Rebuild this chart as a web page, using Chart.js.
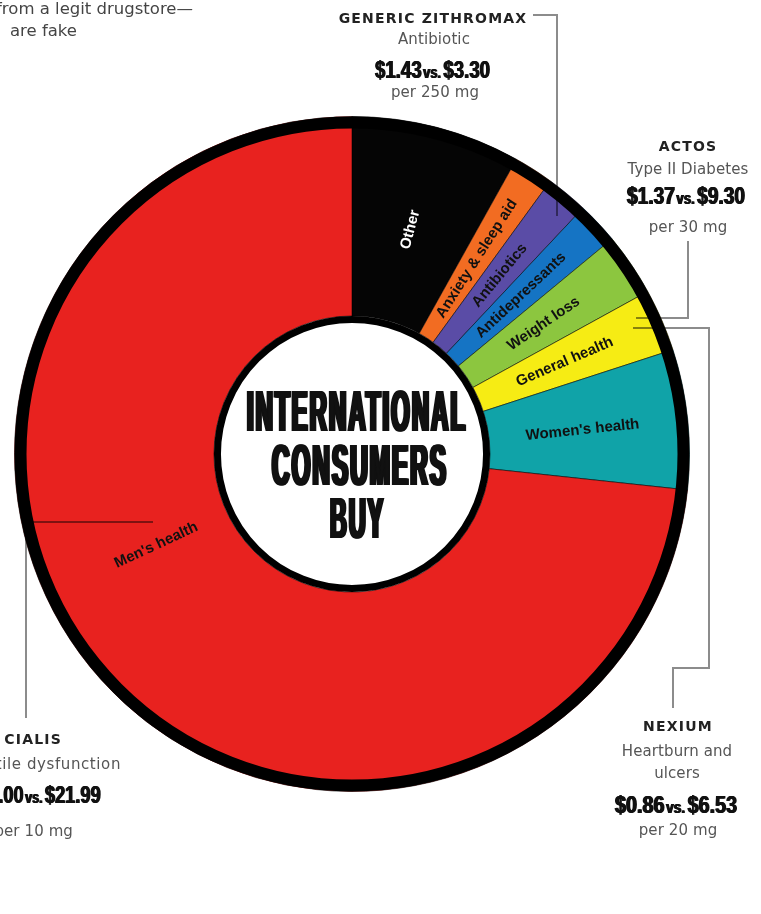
<!DOCTYPE html>
<html>
<head>
<meta charset="utf-8">
<script src="https://cdn.jsdelivr.net/npm/chart.js@4.4.1/dist/chart.umd.min.js"></script>
<style>
  html, body { margin: 0; padding: 0; background: #fff; }
  #page { position: relative; width: 761px; height: 914px; overflow: hidden; background: #fff; }
  #chart { position: absolute; left: 0; top: 0; }
  #leaders { position: absolute; left: 0; top: 0; }
  .t { position: absolute; white-space: nowrap; line-height: 1; transform: translate(-50%, -50%); }
  .r { transform: translate(-100%, -50%); }
  .l { transform: translate(0, -50%); }
  .title { font: bold 14px "DejaVu Sans"; letter-spacing: 1.2px; color: #222; }
  .sub { font: 15px "DejaVu Sans"; letter-spacing: 0.1px; color: #555; }
  .intro { font: 16.5px "DejaVu Sans"; color: #444; }
  .fit { position: absolute; white-space: nowrap; line-height: 1; transform-origin: 0 50%;
         font-family: "Liberation Sans"; font-weight: bold; color: #111; }
  .price { font-size: 24px; text-shadow: 0.8px 0 0 #111, -0.8px 0 0 #111; }
  .price .vs { font-size: 16.5px; margin: 0 3px 0 2px; }
  .center { font-size: 58px; letter-spacing: 5px; color: #111;
            text-shadow: 2px 0 0 #111, -2px 0 0 #111, 4px 0 0 #111, -4px 0 0 #111; }
</style>
</head>
<body>
<div id="page">
  <canvas id="chart" width="761" height="914"></canvas>
  <svg id="leaders" width="761" height="914">
    <g fill="none" stroke="rgba(0,0,0,0.45)" stroke-width="2">
      <polyline points="533,15 557,15 557,216"/>
      <polyline points="688,241 688,318 636,318"/>
      <polyline points="633,328 709,328 709,668 673,668 673,708"/>
      <polyline points="153,522 26,522 26,718"/>
    </g>
  </svg>

  <div class="t r intro" style="left:193px; top:7.5px;">from a legit drugstore—</div>
  <div class="t l intro" style="left:10px; top:30px;">are fake</div>

  <div class="t title" style="left:433px; top:17.5px;">GENERIC ZITHROMAX</div>
  <div class="t sub" style="left:434px; top:38.5px;">Antibiotic</div>
  <div class="fit price" data-cx="432" data-cy="70" data-w="115">$1.43<span class="vs">vs.</span>$3.30</div>
  <div class="t sub" style="left:435px; top:92px;">per 250 mg</div>

  <div class="t title" style="left:688px; top:145.5px;">ACTOS</div>
  <div class="t sub" style="left:688px; top:168.5px;">Type II Diabetes</div>
  <div class="fit price" data-cx="686" data-cy="196" data-w="118">$1.37<span class="vs">vs.</span>$9.30</div>
  <div class="t sub" style="left:688px; top:227px;">per 30 mg</div>

  <div class="t r title" style="left:62px; top:739px;">CIALIS</div>
  <div class="t r sub" style="left:121px; top:763.5px; letter-spacing:0.6px;">Erectile dysfunction</div>
  <div class="fit price" data-right="100" data-cy="795" data-scale="0.76">$2.00<span class="vs">vs.</span>$21.99</div>
  <div class="t r sub" style="left:73px; top:831px;">per 10 mg</div>

  <div class="t title" style="left:678px; top:726px;">NEXIUM</div>
  <div class="t sub" style="left:677px; top:751px;">Heartburn and</div>
  <div class="t sub" style="left:677px; top:772.5px;">ulcers</div>
  <div class="fit price" data-cx="676" data-cy="805" data-w="122">$0.86<span class="vs">vs.</span>$6.53</div>
  <div class="t sub" style="left:678px; top:830px;">per 20 mg</div>

  <div class="fit center" data-cx="357" data-cy="411" data-w="220">INTERNATIONAL</div>
  <div class="fit center" data-cx="360" data-cy="465" data-w="176">CONSUMERS</div>
  <div class="fit center" data-cx="357.5" data-cy="518" data-w="55">BUY</div>
</div>

<script>
// share of purchases by category, clockwise from 12 o'clock
const categories = [
  "Other",
  "Anxiety & sleep aid",
  "Antibiotics",
  "Antidepressants",
  "Weight loss",
  "General health",
  "Women's health",
  "Men's health"
];
const shares = [8.1, 1.9, 2.0, 2.0, 3.0, 3.0, 6.7, 73.3];

const segmentColors = ["#050505", "#f26c22", "#5a4ca6", "#1574c4", "#8cc63f", "#f6ec14", "#10a3a8", "#e8221f"];
const labelColors = ["#ffffff", "#111", "#111", "#111", "#111", "#111", "#111", "#111"];
// men's health label sits off the wedge middle, like the print
const labelPlacement = { "Men's health": { angle: 155, radius: 216 } };

const ringsAndLabels = {
  id: "ringsAndLabels",
  afterDatasetsDraw(chart) {
    const ctx = chart.ctx;
    const meta = chart.getDatasetMeta(0);
    const first = meta.data[0];
    const { x, y, outerRadius, innerRadius } = first.getProps(["x", "y", "outerRadius", "innerRadius"], true);
    ctx.save();
    ctx.strokeStyle = "#000";
    ctx.lineWidth = 12;
    ctx.beginPath();
    ctx.arc(x, y, outerRadius - 6, 0, Math.PI * 2);
    ctx.stroke();
    ctx.lineWidth = 7;
    ctx.beginPath();
    ctx.arc(x, y, innerRadius - 3.5, 0, Math.PI * 2);
    ctx.stroke();

    ctx.font = 'bold 15px "Liberation Sans"';
    ctx.textAlign = "center";
    ctx.textBaseline = "middle";
    meta.data.forEach((arc, i) => {
      const name = categories[i];
      let mid = (arc.startAngle + arc.endAngle) / 2;
      let rad = (innerRadius + outerRadius - 12) / 2;
      if (labelPlacement[name]) {
        mid = labelPlacement[name].angle * Math.PI / 180;
        rad = labelPlacement[name].radius;
      }
      const lx = x + Math.cos(mid) * rad;
      const ly = y + Math.sin(mid) * rad;
      let rot = mid;
      if (Math.cos(mid) < 0) rot += Math.PI;
      ctx.save();
      ctx.translate(lx, ly);
      ctx.rotate(rot);
      ctx.fillStyle = labelColors[i];
      ctx.fillText(name, 0, 0);
      ctx.restore();
    });
    ctx.restore();
  }
};

new Chart(document.getElementById("chart"), {
  type: "doughnut",
  data: {
    labels: categories,
    datasets: [{
      data: shares,
      backgroundColor: segmentColors,
      borderColor: "rgba(0,0,0,0.55)",
      borderWidth: 1
    }]
  },
  options: {
    responsive: false,
    animation: false,
    cutout: "40.9%",
    layout: { padding: { left: 14, top: 116, right: 71, bottom: 122 } },
    plugins: { legend: { display: false }, tooltip: { enabled: false } }
  },
  plugins: [ringsAndLabels]
});

// squeeze the condensed display type to the widths in the print
document.querySelectorAll(".fit").forEach((el) => {
  const w = el.offsetWidth;
  const h = el.offsetHeight;
  const s = el.dataset.w ? Number(el.dataset.w) / w : Number(el.dataset.scale);
  const cy = Number(el.dataset.cy);
  let left;
  if (el.dataset.right) left = Number(el.dataset.right) - w * s;
  else left = Number(el.dataset.cx) - (w * s) / 2;
  el.style.left = left + "px";
  el.style.top = (cy - h / 2) + "px";
  el.style.transform = `scaleX(${s})`;
});
</script>
</body>
</html>
